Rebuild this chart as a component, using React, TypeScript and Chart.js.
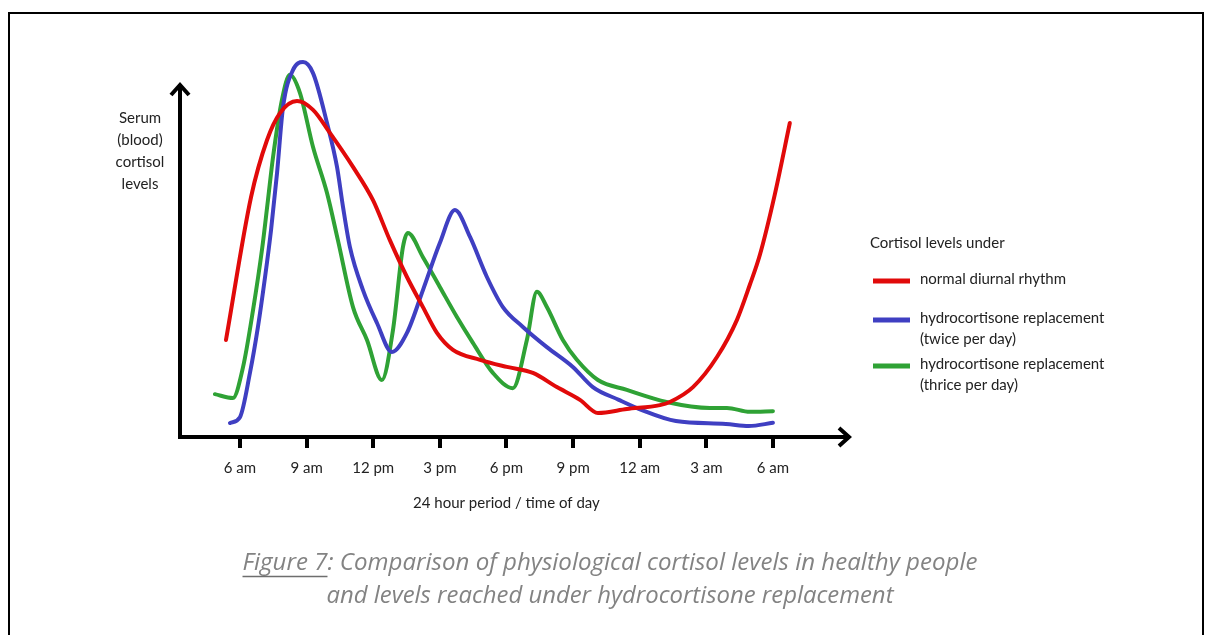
import React, { useEffect, useRef } from "react";
import { Chart, registerables } from "chart.js";

Chart.register(...registerables);

// ---- Data (hours since midnight; 24+ = next day) ----
const tickHours = [6, 9, 12, 15, 18, 21, 24, 27, 30];
const tickLabels = ["6 am", "9 am", "12 pm", "3 pm", "6 pm", "9 pm", "12 am", "3 am", "6 am"];

const seriesLabels = [
  "normal diurnal rhythm",
  "hydrocortisone replacement\n(twice per day)",
  "hydrocortisone replacement\n(thrice per day)",
];
const seriesColors = ["#e10a0a", "#3f3fc2", "#2fa235"];

const normalHours = [5.37, 6.5, 7.22, 7.8, 8.57, 9.29, 10.05, 11.09, 11.99, 12.75, 13.52, 14.24, 14.87, 15.59, 16.81, 18.02, 19.19, 20.27, 21.31, 22.12, 23.42, 24.91, 25.36, 26.4, 27.48, 28.38, 28.96, 29.41, 30.08, 30.76];
const normalLevels = [27.4, 67.8, 83.9, 91.5, 94.9, 92.4, 85.9, 76.3, 66.9, 55.6, 45.2, 36.7, 29.4, 24.6, 21.8, 19.8, 18.1, 14.1, 10.5, 6.8, 7.9, 9.0, 9.9, 14.1, 22.6, 33.1, 43.0, 51.4, 68.4, 88.7];

const twiceHours = [5.55, 6.0, 6.45, 6.81, 7.13, 7.4, 7.67, 7.94, 8.39, 8.84, 9.29, 9.92, 10.37, 10.64, 10.95, 11.54, 12.17, 12.84, 13.52, 14.24, 15.0, 15.68, 16.36, 17.12, 17.84, 18.74, 19.82, 20.99, 21.89, 23.06, 24.1, 25.63, 27.88, 28.91, 30.0];
const twiceLevels = [3.95, 5.6, 18.1, 31.1, 45.2, 58.5, 74.6, 93.2, 103.7, 105.9, 102.8, 88.7, 76.3, 65.0, 53.7, 41.5, 32.2, 24.0, 29.4, 41.5, 54.8, 64.1, 56.5, 45.2, 36.7, 31.1, 25.4, 19.8, 14.1, 10.5, 7.6, 4.5, 3.7, 3.1, 4.0];

const thriceHours = [4.87, 5.68, 6.14, 6.59, 6.99, 7.26, 7.49, 7.89, 8.25, 8.7, 9.29, 9.92, 10.41, 11.09, 11.72, 12.39, 12.89, 13.34, 13.56, 14.24, 15.0, 15.77, 16.49, 17.39, 18.29, 18.92, 19.37, 19.82, 20.54, 21.17, 22.12, 23.42, 25.21, 27.16, 27.93, 28.96, 30.0];
const thriceLevels = [12.1, 11.0, 19.8, 35.9, 52.8, 66.9, 79.1, 95.2, 102.3, 97.2, 81.9, 68.9, 55.6, 36.7, 27.4, 16.1, 30.2, 53.7, 57.6, 50.8, 42.4, 33.9, 26.6, 18.1, 13.8, 27.4, 41.0, 36.7, 27.4, 21.8, 16.1, 13.3, 9.9, 8.2, 8.2, 7.1, 7.3];

const yAxisLabel = ["Serum", "(blood)", "cortisol", "levels"];
const xAxisTitle = "24 hour period / time of day";
const legendTitle = "Cortisol levels under";
const captionLead = "Figure 7";
const captionLine1Rest = ": Comparison of physiological cortisol levels in healthy people";
const captionLine2 = "and levels reached under hydrocortisone replacement";

const X_MIN = 3.21;
const X_MAX = 33.47;
const Y_MAX = 110;
const Y_ARROW = 100;

const FONT = "Lato, 'Noto Sans', sans-serif";

function toPoints(xs: number[], ys: number[]) {
  return xs.map((x, i) => ({ x, y: ys[i] }));
}

const decorPlugin = {
  id: "decor",
  beforeDatasetsDraw(chart: any) {
    const ctx = chart.ctx as CanvasRenderingContext2D;
    const xs = chart.scales.x;
    const ys = chart.scales.y;
    const y0 = ys.getPixelForValue(0);
    const yTop = ys.getPixelForValue(Y_ARROW);
    const xLeft = chart.chartArea.left;
    const xRight = chart.chartArea.right;
    const yAxisX = xLeft + 2;

    ctx.save();
    ctx.strokeStyle = "#000";
    ctx.lineWidth = 4;
    ctx.lineCap = "butt";
    ctx.lineJoin = "miter";
    // y axis
    ctx.beginPath();
    ctx.moveTo(yAxisX, y0 + 2);
    ctx.lineTo(yAxisX, yTop + 1);
    ctx.stroke();
    ctx.beginPath();
    ctx.moveTo(yAxisX - 9, yTop + 12);
    ctx.lineTo(yAxisX, yTop + 2);
    ctx.lineTo(yAxisX + 9, yTop + 12);
    ctx.stroke();
    // x axis
    ctx.beginPath();
    ctx.moveTo(xLeft, y0);
    ctx.lineTo(xRight - 1, y0);
    ctx.stroke();
    ctx.beginPath();
    ctx.moveTo(xRight - 11, y0 - 9);
    ctx.lineTo(xRight - 1, y0);
    ctx.lineTo(xRight - 11, y0 + 9);
    ctx.stroke();
    // ticks
    ctx.lineWidth = 4;
    tickHours.forEach((h) => {
      const px = Math.round(xs.getPixelForValue(h));
      ctx.beginPath();
      ctx.moveTo(px, y0);
      ctx.lineTo(px, y0 + 11);
      ctx.stroke();
    });
    ctx.restore();
  },
  afterDraw(chart: any) {
    const ctx = chart.ctx as CanvasRenderingContext2D;
    const xs = chart.scales.x;
    const ys = chart.scales.y;
    const y0 = ys.getPixelForValue(0);
    ctx.save();
    // border
    ctx.strokeStyle = "#000";
    ctx.lineWidth = 2;
    ctx.beginPath();
    ctx.moveTo(9, 640);
    ctx.lineTo(9, 13);
    ctx.lineTo(1203, 13);
    ctx.lineTo(1203, 640);
    ctx.stroke();

    ctx.fillStyle = "#222";
    ctx.textBaseline = "middle";
    ctx.textAlign = "center";
    ctx.font = `15px ${FONT}`;
    tickHours.forEach((h, i) => {
      ctx.fillText(tickLabels[i], xs.getPixelForValue(h), y0 + 31);
    });
    ctx.fillText(xAxisTitle, xs.getPixelForValue(18), y0 + 66);

    yAxisLabel.forEach((t, i) => {
      ctx.fillText(t, 140, 118 + i * 22);
    });

    // legend
    ctx.textAlign = "left";
    ctx.fillText(legendTitle, 870, 243);
    const rows = [279, 318, 364];
    chart.data.datasets.forEach((ds: any, i: number) => {
      const yy = rows[i];
      ctx.strokeStyle = ds.borderColor;
      ctx.lineWidth = 5;
      ctx.beginPath();
      ctx.moveTo(873, yy + 2);
      ctx.lineTo(910, yy + 2);
      ctx.stroke();
      String(ds.label).split("\n").forEach((line: string, j: number) => {
        ctx.fillText(line, 920, yy + j * 21.5);
      });
    });

    // caption
    ctx.fillStyle = "#838383";
    ctx.font = `italic 400 24px 'Open Sans', sans-serif`;
    const l1w = ctx.measureText(captionLead + captionLine1Rest).width;
    const leadW = ctx.measureText(captionLead).width;
    const target1 = 735;
    const s1 = target1 / l1w;
    const x1 = 610 - target1 / 2;
    ctx.save();
    ctx.translate(x1, 563);
    ctx.scale(s1, 1);
    ctx.textAlign = "left";
    ctx.fillText(captionLead + captionLine1Rest, 0, 0);
    ctx.restore();
    ctx.strokeStyle = "#6e6e6e";
    ctx.lineWidth = 1.5;
    ctx.beginPath();
    ctx.moveTo(x1, 576.5);
    ctx.lineTo(x1 + leadW * s1, 576.5);
    ctx.stroke();

    const l2w = ctx.measureText(captionLine2).width;
    const target2 = 567;
    const s2 = target2 / l2w;
    ctx.save();
    ctx.translate(610 - target2 / 2, 596);
    ctx.scale(s2, 1);
    ctx.textAlign = "left";
    ctx.fillText(captionLine2, 0, 0);
    ctx.restore();
    ctx.restore();
  },
};

export default function App() {
  const ref = useRef<HTMLCanvasElement | null>(null);
  useEffect(() => {
    if (!ref.current) return;
    const yBottom = 437;
    const yTop = yBottom - (Y_MAX / Y_ARROW) * 354;
    const chart = new Chart(ref.current, {
      type: "line",
      data: {
        datasets: [
          { label: seriesLabels[0], data: toPoints(normalHours, normalLevels), borderColor: seriesColors[0] },
          { label: seriesLabels[1], data: toPoints(twiceHours, twiceLevels), borderColor: seriesColors[1] },
          { label: seriesLabels[2], data: toPoints(thriceHours, thriceLevels), borderColor: seriesColors[2] },
        ].map((d) => ({
          ...d,
          borderWidth: 4,
          pointRadius: 0,
          fill: false,
          cubicInterpolationMode: "monotone" as const,
          borderCapStyle: "round" as const,
          borderJoinStyle: "round" as const,
        })),
      },
      options: {
        animation: false,
        responsive: false,
        devicePixelRatio: 1,
        layout: { padding: { left: 178, right: 1205 - 850, top: yTop, bottom: 635 - yBottom } },
        scales: {
          x: { type: "linear", min: X_MIN, max: X_MAX, display: false },
          y: { type: "linear", min: 0, max: Y_MAX, display: false },
        },
        plugins: { legend: { display: false }, tooltip: { enabled: false } },
      },
      plugins: [decorPlugin],
    });
    return () => chart.destroy();
  }, []);
  return (
    <div style={{ position: "absolute", left: 0, top: 0, width: 1205, height: 635, background: "#fff" }}>
      <canvas ref={ref} width={1205} height={635} style={{ display: "block" }} />
    </div>
  );
}
